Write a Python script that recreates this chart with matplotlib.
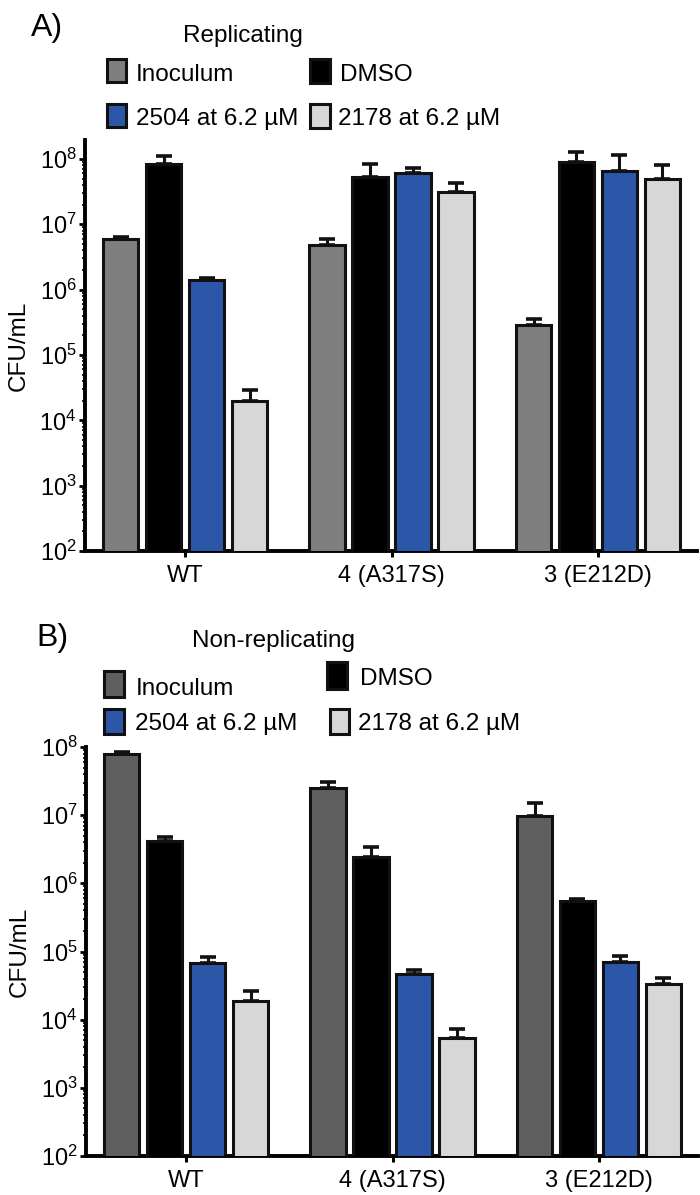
import numpy as np
import matplotlib
matplotlib.use("Agg")
import matplotlib.pyplot as plt
from matplotlib import font_manager
from matplotlib.patches import Rectangle
from matplotlib.ticker import FixedLocator, LogFormatterMathtext, NullFormatter

# ---------------- data ----------------
groups = ["WT", "4 (A317S)", "3 (E212D)"]
series = ["Inoculum", "DMSO", "2504 at 6.2 µM", "2178 at 6.2 µM"]

rep_inoculum = [5.9e6, 4.9e6, 2.9e5]
rep_inoculum_err = [0.4e6, 1.0e6, 0.6e5]
rep_dmso = [8.4e7, 5.3e7, 9.0e7]
rep_dmso_err = [2.8e7, 3.1e7, 4.0e7]
rep_2504 = [1.42e6, 6.1e7, 6.6e7]
rep_2504_err = [0.1e6, 1.2e7, 4.9e7]
rep_2178 = [1.96e4, 3.1e7, 4.9e7]
rep_2178_err = [1.0e4, 1.2e7, 3.1e7]

nonrep_inoculum = [7.9e7, 2.5e7, 9.7e6]
nonrep_inoculum_err = [0.6e7, 0.6e7, 5.3e6]
nonrep_dmso = [4.2e6, 2.4e6, 5.5e5]
nonrep_dmso_err = [0.6e6, 1.0e6, 0.4e5]
nonrep_2504 = [6.8e4, 4.7e4, 7.0e4]
nonrep_2504_err = [1.5e4, 0.7e4, 1.6e4]
nonrep_2178 = [1.9e4, 5.4e3, 3.3e4]
nonrep_2178_err = [0.7e4, 1.9e3, 0.8e4]

colors_rep = ["#7f7f7f", "#000000", "#2c57a8", "#d7d7d7"]
colors_nonrep = ["#5e5f5e", "#000000", "#2c57a8", "#d7d7d7"]

# ---------------- fonts ----------------
names = {f.name for f in font_manager.fontManager.ttflist}
REG = "Liberation Sans" if "Liberation Sans" in names else "DejaVu Sans"
plt.rcParams["font.family"] = [REG, "DejaVu Sans"]
plt.rcParams["mathtext.fontset"] = "custom"
plt.rcParams["mathtext.rm"] = REG
plt.rcParams["mathtext.it"] = REG + ":italic"
plt.rcParams["mathtext.bf"] = REG + ":bold"

W, H = 700, 1195
fig = plt.figure(figsize=(W / 100, H / 100), dpi=100)


def fx(x):
    return x / W


def fy(y):
    return 1 - y / H


EDGE = "#111111"


def panel(rect, vals, errs, colors, ylim):
    ax = fig.add_axes(rect)
    x = np.arange(len(groups))
    pitch = 0.208
    width = 0.172
    offs = (np.arange(len(series)) - 1.5) * pitch
    for i in range(len(series)):
        ax.bar(x + offs[i], vals[i], width, color=colors[i], edgecolor=EDGE,
               linewidth=2.2, zorder=3)
        ax.errorbar(x + offs[i], vals[i], yerr=[np.zeros(len(groups)), errs[i]],
                    fmt="none", ecolor=EDGE, elinewidth=2.2, capsize=5.5,
                    capthick=2.6, zorder=2)
    ax.set_yscale("log")
    ax.set_ylim(*ylim)
    ax.set_xlim(-0.485, 2.48)
    ax.set_xticks(x)
    ax.set_xticklabels(groups, fontsize=17, family=REG)
    majors = [10.0 ** k for k in range(2, 9)]
    minors = [m * 10.0 ** k for k in range(2, 9) for m in range(2, 10)
              if m * 10.0 ** k < ylim[1]]
    ax.yaxis.set_major_locator(FixedLocator(majors))
    ax.yaxis.set_major_formatter(LogFormatterMathtext())
    ax.yaxis.set_minor_locator(FixedLocator(minors))
    ax.yaxis.set_minor_formatter(NullFormatter())
    ax.tick_params(axis="y", which="major", length=4, width=2, labelsize=17, pad=2)
    ax.tick_params(axis="y", which="minor", length=2.5, width=1.2)
    ax.tick_params(axis="x", length=4, width=2.2, pad=6)
    for s in ["top", "right"]:
        ax.spines[s].set_visible(False)
    for s in ["left", "bottom"]:
        ax.spines[s].set_linewidth(2.8)
    ax.set_ylabel("CFU/mL", fontsize=17.5, family=REG, labelpad=7)
    return ax


# Panel A
axA = panel([fx(85), fy(551), fx(697) - fx(85), fy(140) - fy(551)],
            [rep_inoculum, rep_dmso, rep_2504, rep_2178],
            [rep_inoculum_err, rep_dmso_err, rep_2504_err, rep_2178_err],
            colors_rep, (1e2, 10 ** 8.29))

# Panel B
axB = panel([fx(86), fy(1156), fx(698) - fx(86), fy(747) - fy(1156)],
            [nonrep_inoculum, nonrep_dmso, nonrep_2504, nonrep_2178],
            [nonrep_inoculum_err, nonrep_dmso_err, nonrep_2504_err, nonrep_2178_err],
            colors_nonrep, (1e2, 1e8))


def square(x0, y0, x1, y1, color):
    r = Rectangle((fx(x0 + 1.5), fy(y1 - 1.5)), fx(x1 - x0 - 3), (y1 - y0 - 3) / H,
                  transform=fig.transFigure, facecolor=color, edgecolor=EDGE,
                  linewidth=2.2)
    fig.add_artist(r)


LEG_FS = 17.5

# Panel A labels/legend
fig.text(fx(31), fy(36), "A)", fontsize=23, family=REG, ha="left", va="baseline")
fig.text(fx(243), fy(42), "Replicating", fontsize=17.5, family=REG, ha="center", va="baseline")
legA = [  # (square box, text x, text baseline)
    ((105, 57, 127, 83), 136, 81),
    ((308, 57, 331, 84), 340, 81),
    ((105, 102, 127, 128), 136, 125),
    ((308, 102, 331, 129), 338, 125),
]
for i, (box, tx, ty) in enumerate(legA):
    square(*box, colors_rep[i])
    fig.text(fx(tx), fy(ty), series[i], fontsize=LEG_FS, family=[REG, "DejaVu Sans"],
             ha="left", va="baseline")

# Panel B labels/legend
fig.text(fx(36), fy(646), "B)", fontsize=23, family=REG, ha="left", va="baseline")
fig.text(fx(273), fy(647), "Non-replicating", fontsize=17.5, family=REG, ha="center", va="baseline")
legB = [
    ((102, 669, 125, 698), 136, 695),
    ((325, 660, 348, 690), 360, 685),
    ((102, 707, 125, 735), 135, 730),
    ((328, 707, 350, 735), 358, 730),
]
for i, (box, tx, ty) in enumerate(legB):
    square(*box, colors_nonrep[i])
    fig.text(fx(tx), fy(ty), series[i], fontsize=LEG_FS, family=[REG, "DejaVu Sans"],
             ha="left", va="baseline")

fig.savefig("out.png", dpi=100)
